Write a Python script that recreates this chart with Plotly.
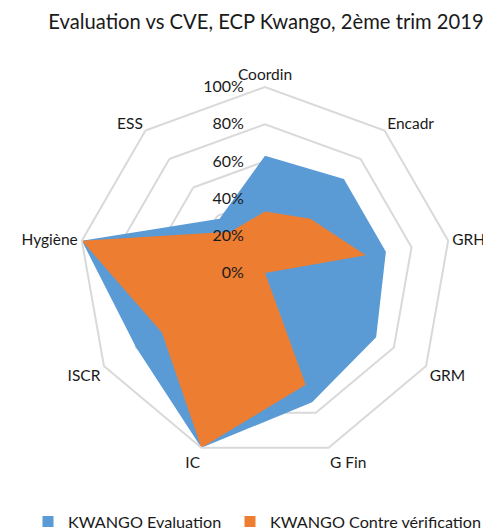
import plotly.graph_objects as go

# Radar data
categories = ["Coordin", "Encadr", "GRH", "GRM", "G Fin", "IC", "ISCR", "Hygiène", "ESS"]
evaluation = [0.63, 0.66, 0.66, 0.69, 0.74, 1.00, 0.80, 1.00, 0.38]
contre_verif = [0.33, 0.38, 0.55, 0.00, 0.64, 1.00, 0.64, 1.00, 0.29]
series_names = ["KWANGO Evaluation", "KWANGO Contre vérification"]
radial_ticks = [0, 0.2, 0.4, 0.6, 0.8, 1.0]

BLUE = "#5B9BD5"
ORANGE = "#ED7D31"
GRID = "#D9D9D9"
FONT = "Lato"
W, H = 491, 532
OFF = 8  # page body margin shifts everything by this much


def closed(values):
    return values + values[:1]


def px_x(x):
    return (x - OFF) / W


def px_y(y):
    return 1 - (y - OFF) / H


fig = go.Figure()
for name, vals, col in [(series_names[0], evaluation, BLUE),
                        (series_names[1], contre_verif, ORANGE)]:
    # filled area, no legend entry
    fig.add_trace(go.Scatterpolar(
        r=closed(vals), theta=closed(categories), name=name,
        mode="none", fill="toself", fillcolor=col, showlegend=False,
    ))
# square legend keys, one legend box each so they sit where Excel put them
for name, col, lg in [(series_names[0], BLUE, "legend"), (series_names[1], ORANGE, "legend2")]:
    fig.add_trace(go.Scatterpolar(
        r=[None], theta=[categories[0]], name=name, mode="markers",
        marker=dict(symbol="square", size=11, color=col), legend=lg,
    ))

legend_style = dict(orientation="h", xanchor="left", yanchor="middle",
                    y=px_y(522), font=dict(size=16.2), itemwidth=30,
                    bgcolor="rgba(0,0,0,0)")

cy, rad = 273, 186
fig.update_layout(
    width=W, height=H,
    margin=dict(l=0, r=0, t=0, b=0),
    paper_bgcolor="white",
    font=dict(family=FONT, size=16, color="#1a1a1a"),
    title=dict(text="Evaluation vs CVE, ECP Kwango, 2ème trim 2019",
               x=px_x(266), xanchor="center", y=px_y(22), yanchor="middle",
               font=dict(size=20.2)),
    polar=dict(
        domain=dict(x=[px_x(265 - rad), px_x(265 + rad)],
                    y=[px_y(cy + rad), px_y(cy - rad)]),
        bgcolor="white",
        gridshape="linear",
        radialaxis=dict(range=[0, 1], tickvals=radial_ticks, tickformat=".0%",
                        angle=90, tickangle=90, side="counterclockwise",
                        showline=False, ticks="outside", ticklen=15,
                        tickcolor="rgba(0,0,0,0)",
                        gridcolor=GRID, gridwidth=2, tickfont=dict(size=16)),
        angularaxis=dict(direction="clockwise", rotation=90, showgrid=False,
                         linecolor=GRID, linewidth=2, ticks="",
                         tickfont=dict(size=15.5)),
    ),
    legend=dict(x=px_x(28), **legend_style),
    legend2=dict(x=px_x(230), **legend_style),
)

fig.write_html("out.html")
